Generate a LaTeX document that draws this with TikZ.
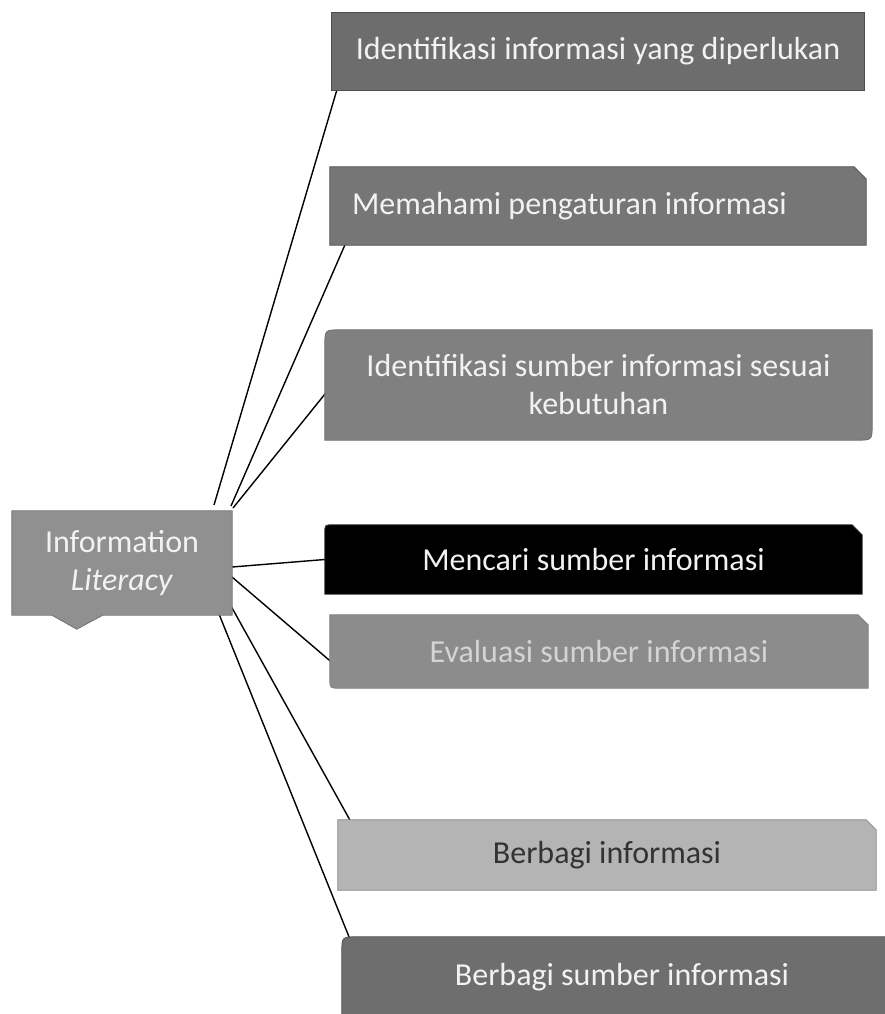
\documentclass[tikz,border=0pt]{standalone}
\usepackage{fontspec}
\setmainfont{Carlito}
\usetikzlibrary{calc,backgrounds}
\definecolor{cA}{HTML}{6D6D6D}
\definecolor{cAd}{HTML}{4E4E4E}
\definecolor{cB}{HTML}{767676}
\definecolor{cC}{HTML}{808080}
\definecolor{cE}{HTML}{8C8C8C}
\definecolor{cF}{HTML}{B4B4B4}
\definecolor{cG}{HTML}{6E6E6E}
\definecolor{cM}{HTML}{909090}
\definecolor{txtw}{HTML}{F2F2F2}
\definecolor{txtl}{HTML}{D4D4D4}
\definecolor{txtd}{HTML}{333333}
\begin{document}
\begin{tikzpicture}[x=1pt,y=-1pt,
  lbl/.style={font=\fontsize{32}{38}\selectfont, text=txtw, inner sep=0pt, align=center},
  conn/.style={draw=black, line width=1.4pt},
  shp/.style={fill=#1, draw=cAd, line width=0.8pt}]
\useasboundingbox (0,0) rectangle (884,1014);
\clip (0,0) rectangle (884,1014);

\node[lbl, minimum width=220pt, minimum height=104pt, text=txtw] (m) at (122,563) {Information\\\textit{Literacy}};
\node[lbl, minimum width=532pt, minimum height=77pt] (b1) at (598,51.5) {Identifikasi informasi yang diperlukan};
\node[lbl, minimum width=536pt, minimum height=78pt, text width=492pt, inner xsep=22pt, align=flush left] (b2) at (598,206) {Memahami pengaturan informasi};
\node[lbl, minimum width=547pt, minimum height=110pt] (b3) at (598.5,385) {Identifikasi sumber informasi sesuai\\kebutuhan};
\node[lbl, minimum width=537pt, minimum height=69pt] (b4) at (593.5,559.5) {Mencari sumber informasi};
\node[lbl, minimum width=538pt, minimum height=73pt, text=txtl] (b5) at (599,651.5) {Evaluasi sumber informasi};
\node[lbl, minimum width=538pt, minimum height=70pt, text=txtd] (b6) at (607,855) {Berbagi informasi};
\node[lbl, minimum width=560pt, minimum height=80pt] (b7) at (622,977) {Berbagi sumber informasi};

\coordinate (s1) at (214,505);
\coordinate (s2) at (231,506);
\coordinate (s3) at (233,508);
\coordinate (s4) at (232,567);
\coordinate (s5) at (232,577);
\coordinate (s6) at (226,597);
\coordinate (s7) at (219,614);

\begin{scope}[on background layer]
  % connectors
  \draw[conn] (s1) -- ($(b1.south west)+(5,0)$);
  \draw[conn] (s2) -- ($(b2.south west)+(15,0)$);
  \draw[conn] (s3) -- ($(b3.west)+(1,8)$);
  \draw[conn] (s4) -- (b4.west);
  \draw[conn] (s5) -- ($(b5.west)+(1,10)$);
  \draw[conn] (s6) -- ($(b6.north west)+(12,0)$);
  \draw[conn] (s7) -- ($(b7.north west)+(8,2)$);

  % main shape with pointer
  \path[fill=cM, draw=cM!80!black, line width=0.8pt] (m.north west) -- (m.north east) -- (m.south east)
    -- ($(m.south west)+(91,0)$) -- ($(m.south west)+(65,14)$) -- ($(m.south west)+(40,0)$) -- (m.south west) -- cycle;

  % box 1
  \path[shp=cA] (b1.south west) rectangle (b1.north east);
  % box 2 (snipped top right)
  \path[shp=cB] (b2.south west) -- (b2.north west) -- ($(b2.north east)+(-12,0)$)
    -- ($(b2.north east)+(0,12)$) -- (b2.south east) -- cycle;
  % box 3 (rounded top left and bottom right)
  \path[shp=cC, draw=cC!85!black] (b3.south west) -- ($(b3.north west)+(0,16)$) .. controls (b3.north west) .. ($(b3.north west)+(16,0)$)
    -- (b3.north east) -- ($(b3.south east)+(0,-16)$) .. controls (b3.south east) .. ($(b3.south east)+(-16,0)$) -- cycle;
  % box 4 (black)
  \path[fill=black, draw=black!80!white, line width=0.8pt] (b4.south west) -- ($(b4.north west)+(0,8)$) .. controls (b4.north west) .. ($(b4.north west)+(8,0)$)
    -- ($(b4.north east)+(-10,0)$) -- ($(b4.north east)+(0,10)$) -- (b4.south east) -- cycle;
  % box 5
  \path[fill=cE, draw=cE!90!black, line width=0.8pt] ($(b5.south west)+(0,-10)$) -- (b5.north west) -- ($(b5.north east)+(-10,0)$)
    -- ($(b5.north east)+(0,10)$) -- (b5.south east) -- ($(b5.south west)+(10,0)$) .. controls (b5.south west) .. ($(b5.south west)+(0,-10)$) -- cycle;
  % box 6
  \path[fill=cF, draw=cF!75!black, line width=0.8pt] (b6.south west) -- (b6.north west) -- ($(b6.north east)+(-10,0)$)
    -- ($(b6.north east)+(0,10)$) -- (b6.south east) -- cycle;
  % box 7
  \path[shp=cG] (b7.south west) -- ($(b7.north west)+(0,16)$) .. controls (b7.north west) .. ($(b7.north west)+(16,0)$)
    -- (b7.north east) -- (b7.south east) -- cycle;
\end{scope}
\end{tikzpicture}
\end{document}
